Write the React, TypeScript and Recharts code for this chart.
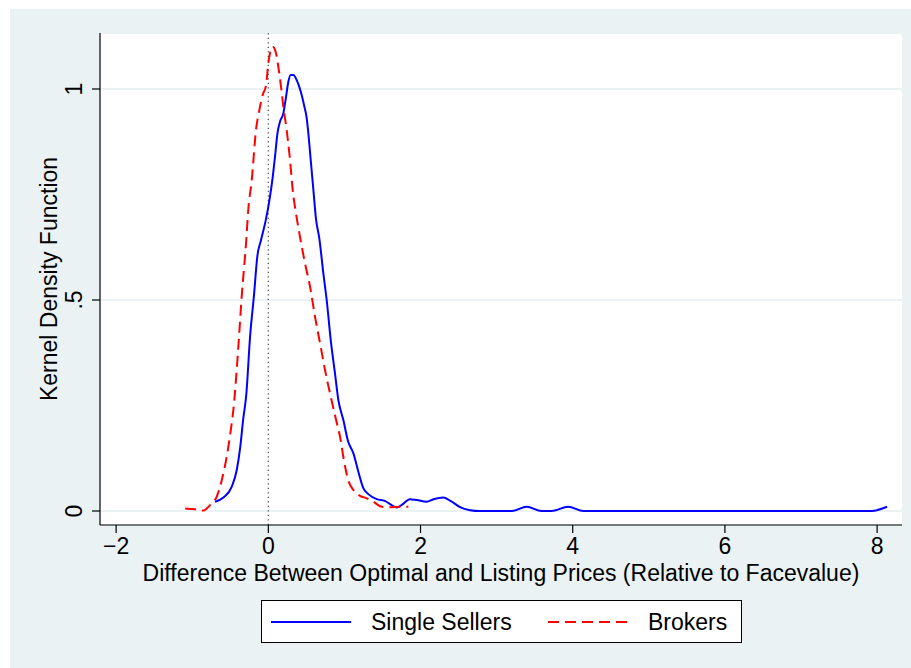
import React from "react";
import {
  LineChart,
  Line,
  XAxis,
  YAxis,
  CartesianGrid,
  ReferenceLine,
  Legend,
} from "recharts";

// kernel density estimates, read as (difference, density) pairs
const sellerX = [
  -0.7, -0.59, -0.48, -0.415, -0.37, -0.33, -0.29, -0.24, -0.188, -0.145,
  -0.096, -0.035, 0.013, 0.058, 0.088, 0.12, 0.154, 0.197, 0.233, 0.263,
  0.294, 0.329, 0.373, 0.426, 0.469, 0.505, 0.526, 0.557, 0.592, 0.627,
  0.67, 0.723, 0.767, 0.82, 0.876, 0.92, 0.985, 1.05, 1.117, 1.183, 1.248,
  1.314, 1.424, 1.53, 1.62, 1.687, 1.75, 1.86, 1.95, 2.08, 2.17, 2.3, 2.41,
  2.52, 2.65, 2.78, 3.2, 3.395, 3.59, 3.72, 3.94, 4.14, 7.93, 8.13,
];
const sellerY = [
  0.022, 0.032, 0.058, 0.097, 0.15, 0.218, 0.275, 0.413, 0.512, 0.603,
  0.642, 0.688, 0.735, 0.792, 0.84, 0.895, 0.923, 0.942, 0.982, 1.017,
  1.033, 1.033, 1.021, 0.994, 0.962, 0.93, 0.895, 0.832, 0.761, 0.691,
  0.646, 0.563, 0.5, 0.405, 0.326, 0.263, 0.216, 0.164, 0.137, 0.093, 0.054,
  0.04, 0.028, 0.024, 0.014, 0.008, 0.014, 0.028, 0.026, 0.022, 0.028, 0.032,
  0.022, 0.009, 0.002, 0, 0, 0.01, 0, 0, 0.01, 0, 0, 0.01,
];

const brokerX = [
  -1.094, -0.963, -0.854, -0.766, -0.678, -0.612, -0.547, -0.481, -0.46,
  -0.394, -0.35, -0.293, -0.263, -0.218, -0.162, -0.118, -0.074, -0.03, 0,
  0.031, 0.058, 0.101, 0.131, 0.167, 0.197, 0.241, 0.285, 0.32, 0.364, 0.408,
  0.482, 0.548, 0.614, 0.68, 0.745, 0.82, 0.89, 0.951, 0.985, 1.05, 1.117,
  1.205, 1.293, 1.38, 1.49, 1.6, 1.73, 1.84,
];
const brokerY = [
  0.006, 0.004, 0.001, 0.014, 0.034, 0.073, 0.129, 0.208, 0.239, 0.389,
  0.508, 0.634, 0.715, 0.784, 0.903, 0.95, 0.986, 1.009, 1.061, 1.092, 1.1,
  1.085, 1.053, 1.005, 0.958, 0.903, 0.832, 0.761, 0.705, 0.658, 0.587,
  0.532, 0.46, 0.397, 0.334, 0.271, 0.216, 0.168, 0.129, 0.073, 0.05, 0.036,
  0.03, 0.022, 0.01, 0.009, 0.01, 0.01,
];

const seriesNames = ["Single Sellers", "Brokers"];
const xTicks = [-2, 0, 2, 4, 6, 8];
const yTicks = [0, 0.5, 1];
const yTickLabels = ["0", ".5", "1"];

const sellers = sellerX.map((x, i) => ({ x, y: sellerY[i] }));
const brokers = brokerX.map((x, i) => ({ x, y: brokerY[i] }));

const FONT = '"Liberation Sans", Arial, sans-serif';
const BG = "#EAF2F3";

const XTick = (props: any) => {
  const { x, y, payload } = props;
  const v = payload.value;
  const label = v < 0 ? "\u2212" + Math.abs(v) : String(v);
  return (
    <text x={x} y={y + 21} textAnchor="middle" fontSize={23} fontFamily={FONT} fill="#000">
      {label}
    </text>
  );
};

const YTick = (props: any) => {
  const { x, y, payload } = props;
  const idx = yTicks.indexOf(payload.value);
  const tx = x - 10;
  return (
    <text
      x={tx}
      y={y}
      transform={`rotate(-90, ${tx}, ${y})`}
      textAnchor="middle"
      fontSize={23}
      fontFamily={FONT}
      fill="#000"
    >
      {yTickLabels[idx]}
    </text>
  );
};

// boxed legend, one key per series in the order of seriesNames
const renderLegend = (props: any) => {
  const items = props.payload || [];
  return (
    <svg width={481} height={43} style={{ display: "block" }}>
      <rect x={0.5} y={0.5} width={480} height={42} fill="#fff" stroke="#000" strokeWidth={1} />
      {items.map((entry: any) => {
        const x0 = seriesNames.indexOf(entry.value) === 0 ? 10 : 287;
        const dash = entry.payload?.strokeDasharray;
        return (
          <g key={entry.value}>
            <line
              x1={x0}
              x2={x0 + 80}
              y1={22}
              y2={22}
              stroke={entry.color}
              strokeWidth={2}
              strokeDasharray={dash}
            />
            <text x={x0 + 100} y={30} fontSize={23} fontFamily={FONT} fill="#000">
              {entry.value}
            </text>
          </g>
        );
      })}
    </svg>
  );
};

export default function App() {
  return (
    <div style={{ position: "absolute", left: 0, top: 0, width: 911, height: 668, background: "#fff" }}>
      <div style={{ position: "absolute", left: 10, top: 9, width: 901, height: 659, background: BG }} />
      <div style={{ position: "absolute", left: 0, top: 0 }}>
        <LineChart width={911} height={668} margin={{ top: 33, right: 9, left: 10, bottom: 0 }}>
          <CartesianGrid
            fill="#fff"
            vertical={false}
            stroke={BG}
            strokeWidth={2}
          />
          <XAxis
            type="number"
            dataKey="x"
            domain={[-2.212, 8.327]}
            ticks={xTicks}
            allowDataOverflow
            height={143}
            tickSize={8}
            tickMargin={0}
            tick={<XTick />}
            tickLine={{ stroke: "#000", strokeWidth: 1.2 }}
            axisLine={{ stroke: "#000", strokeWidth: 1.2 }}
            label={() => (
              <text
                x={501}
                y={581}
                textAnchor="middle"
                fontSize={23}
                fontFamily={FONT}
                fill="#000"
              >
                Difference Between Optimal and Listing Prices (Relative to Facevalue)
              </text>
            )}
          />
          <YAxis
            type="number"
            dataKey="y"
            domain={[-0.0332, 1.1327]}
            ticks={yTicks}
            allowDataOverflow
            width={90}
            tickSize={8}
            tickMargin={0}
            tick={<YTick />}
            tickLine={{ stroke: "#000", strokeWidth: 1.2 }}
            axisLine={{ stroke: "#000", strokeWidth: 1.2 }}
            label={() => (
              <text
                x={57}
                y={279}
                transform="rotate(-90, 57, 279)"
                textAnchor="middle"
                fontSize={23}
                fontFamily={FONT}
                fill="#000"
              >
                Kernel Density Function
              </text>
            )}
          />
          <ReferenceLine x={0} stroke="#555" strokeWidth={1.3} strokeDasharray="1.3 3.2" />
          <Line
            data={sellers}
            dataKey="y"
            name={seriesNames[0]}
            type="monotone"
            stroke="#0000FF"
            strokeWidth={2}
            dot={false}
            isAnimationActive={false}
          />
          <Line
            data={brokers}
            dataKey="y"
            name={seriesNames[1]}
            type="monotone"
            stroke="#FF0000"
            strokeWidth={2}
            strokeDasharray="11 6"
            dot={false}
            isAnimationActive={false}
          />
          <Legend
            layout="vertical"
            align="center"
            verticalAlign="middle"
            content={renderLegend}
            wrapperStyle={{ position: "absolute", left: 261, top: 600, width: 481, height: 43 }}
          />
        </LineChart>
      </div>
    </div>
  );
}
